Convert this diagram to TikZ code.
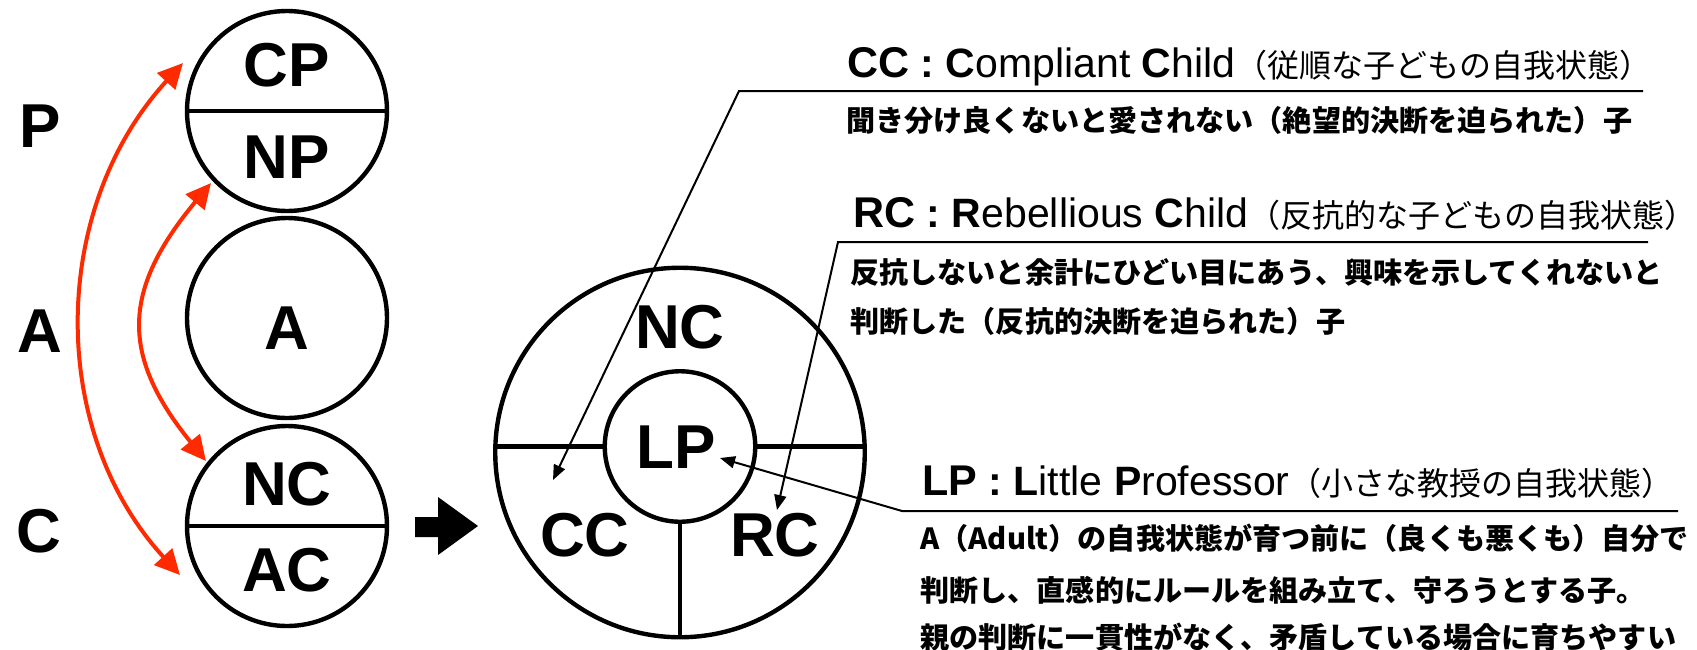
\documentclass[tikz,border=0pt]{standalone}
\usepackage{fontspec}
\setmainfont{Liberation Sans}
\newfontfamily\jpfont{Noto Sans CJK JP}
\usetikzlibrary{arrows.meta}
\definecolor{arrred}{HTML}{FF2A00}
\newcommand\bigf{\fontsize{31}{34}\selectfont\bfseries}
\newcommand\abbrf{\fontsize{21.5}{24}\selectfont\bfseries}
\newcommand\latf{\fontsize{20.5}{23}\selectfont}
\newcommand\jptf{\jpfont\fontsize{16}{18}\selectfont\mdseries}
\newcommand\bodyf{\jpfont\fontsize{14.55}{16}\selectfont\bfseries}
\begin{document}
\begin{tikzpicture}[x=0.5pt,y=-0.5pt,
  ring/.style={circle, draw, line width=2.2pt, minimum size=100pt, inner sep=0pt, outer sep=0pt},
  divider/.style={line width=2.2pt},
  lbl/.style={inner sep=0pt, font=\bigf},
  redarrow/.style={draw=arrred, line width=2pt, {Triangle[length=12.5pt,width=12pt]}-{Triangle[length=12.5pt,width=12pt]}},
  callout/.style={line width=1pt, -{Triangle[length=7.5pt,width=6pt]}},
  txt/.style={anchor=base west, inner sep=0pt}]
\useasboundingbox (0,0) rectangle (1697,649);

% left stack of circles
\node[ring] (pc) at (287,111) {};
\node[ring] (ac) at (287,318) {};
\node[ring] (cc) at (287,526) {};
\draw[divider] (pc.west) -- (pc.east);
\draw[divider] (cc.west) -- (cc.east);

\node[lbl] (lP) at (40,126) {P};
\node[lbl] (lA) at (40,331) {A};
\node[lbl] (lC) at (39,531) {C};

\node[lbl] (tCP) at (287,65) {CP};
\node[lbl] (tNP) at (287,157) {NP};
\node[lbl] (tA) at (287,328) {A};
\node[lbl] (tNC) at (287,484) {NC};
\node[lbl] (tAC) at (287,570) {AC};

% red arrows
\coordinate (o1) at (183,63);
\coordinate (o2) at (180,575);
\coordinate (i1) at (211,183);
\coordinate (i2) at (206,461);
\draw[redarrow] (o1) .. controls (50,208) and (47,430) .. (o2);
\draw[redarrow] (i1) .. controls (122,290) and (120,355) .. (i2);

% block arrow
\fill (415,517) -- (438,517) -- (438,497) -- (478,526) -- (438,555) -- (438,537) -- (415,537) -- cycle;

% big circle
\node[ring, minimum size=184.75pt] (outer) at (680,452.5) {};
\node[ring, minimum size=75.25pt] (inner) at (680,446.5) {};
\draw[divider] (inner.west) -- (inner.west -| outer.west);
\draw[divider] (inner.east) -- (inner.east -| outer.east);
\draw[divider] (inner.south) -- (outer.south);

\node[lbl] (bNC) at (680,327) {NC};
\node[lbl] (bLP) at (676,447) {LP};
\node[lbl] (bCC) at (585,535) {CC};
\node[lbl] (bRC) at (775,535) {RC};

% texts
\node[txt] (ccT) at (847,77) {{\abbrf CC}{\latf\bfseries\ :\ C}{\latf ompliant }{\latf\bfseries C}{\latf hild}{\jptf（従順な子どもの自我状態）}};
\node[txt] (ccB) at (846,131) {\bodyf 聞き分け良くないと愛されない（絶望的決断を迫られた）子};

\node[txt] (rcT) at (853,227) {{\abbrf RC}{\latf\bfseries\ :\ R}{\latf ebellious }{\latf\bfseries C}{\latf hild}{\jptf（反抗的な子どもの自我状態）}};
\node[txt] (rcB1) at (850,283) {\bodyf 反抗しないと余計にひどい目にあう、興味を示してくれないと};
\node[txt] (rcB2) at (850,332) {\bodyf 判断した（反抗的決断を迫られた）子};

\node[txt] (lpT) at (922,495) {{\abbrf LP}{\latf\bfseries\ :\ L}{\latf ittle }{\latf\bfseries P}{\latf rofessor}{\jptf（小さな教授の自我状態）}};
\node[txt] (lpB1) at (920,549) {\bodyf A（Adult）の自我状態が育つ前に（良くも悪くも）自分で};
\node[txt] (lpB2) at (920,601) {\bodyf 判断し、直感的にルールを組み立て、守ろうとする子。};
\node[txt] (lpB3) at (920,648) {\bodyf 親の判断に一貫性がなく、矛盾している場合に育ちやすい};

% callouts
\coordinate (ccEnd) at (1643,91);
\coordinate (ccBend) at (739,91);
\coordinate (ccTip) at (553,480);
\draw[callout] (ccEnd) -- (ccBend) -- (ccTip);
\coordinate (rcEnd) at (1648,242);
\coordinate (rcBend) at (838,242);
\coordinate (rcTip) at (777,510);
\draw[callout] (rcEnd) -- (rcBend) -- (rcTip);
\coordinate (lpEnd) at (1678,511);
\coordinate (lpBend) at (902,511);
\coordinate (lpTip) at (720,458);
\draw[callout] (lpEnd) -- (lpBend) -- (lpTip);
\end{tikzpicture}
\end{document}
